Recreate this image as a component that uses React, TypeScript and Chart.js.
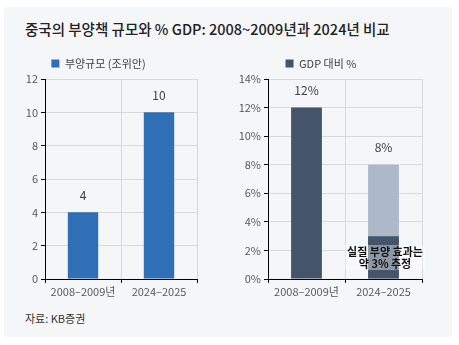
import React, { useEffect, useRef } from "react";
import { Chart, registerables } from "chart.js";

Chart.register(...registerables);

const TITLE = "중국의 부양책 규모와 % GDP: 2008~2009년과 2024년 비교";
const SOURCE = "자료: KB증권";
const CATEGORIES = ["2008–2009년", "2024–2025"];

const LEFT_LEGEND = "부양규모 (조위안)";
const STIMULUS_TRILLION_YUAN = [4, 10];
const LEFT_MAX = 12;
const LEFT_STEP = 2;

const RIGHT_LEGEND = "GDP 대비 %";
const GDP_PCT = [12, 8];
const REAL_EFFECT_PCT = [null, 3];
const RIGHT_MAX = 14;
const RIGHT_STEP = 2;

const ANNOTATION_LINES = ["실질 부양 효과는", "약 3% 추정"];
const ANNOTATION_AT = 1.5;

const FONT = "'Noto Sans CJK KR', 'Noto Sans', sans-serif";
const BLUE = "#2E6FB5";
const DARK = "#44546A";
const LIGHT = "#ADB9CA";
const GRID = "#D9D9D9";
const TICK_TEXT = "#595959";

function valueLabelPlugin(datasetIndex: number, fmt: (v: number) => string) {
  return {
    id: "valueLabels" + datasetIndex,
    afterDatasetsDraw(chart: any) {
      const meta = chart.getDatasetMeta(datasetIndex);
      const ctx = chart.ctx;
      ctx.save();
      ctx.font = `12px ${FONT}`;
      ctx.fillStyle = "#404040";
      ctx.textAlign = "center";
      ctx.textBaseline = "middle";
      meta.data.forEach((el: any, i: number) => {
        const v = chart.data.datasets[datasetIndex].data[i];
        if (v == null) return;
        ctx.fillText(fmt(v), el.x, el.y - 17);
      });
      ctx.restore();
    },
  };
}

const annotationPlugin = {
  id: "realEffectNote",
  afterDatasetsDraw(chart: any) {
    const el = chart.getDatasetMeta(1).data[1];
    if (!el) return;
    const ctx = chart.ctx;
    const y = chart.scales.y.getPixelForValue(ANNOTATION_AT);
    ctx.save();
    ctx.font = `bold 11px ${FONT}`;
    const w = Math.max(...ANNOTATION_LINES.map((l) => ctx.measureText(l).width)) + 4;
    const lh = 11.5;
    const h = lh * ANNOTATION_LINES.length + 2;
    ctx.fillStyle = "rgba(255,255,255,0.4)";
    ctx.fillRect(el.x - w / 2 + 1.5, y - h / 2, w, h);
    ctx.fillStyle = "#111";
    ctx.textAlign = "center";
    ctx.textBaseline = "middle";
    ANNOTATION_LINES.forEach((line, i) => {
      ctx.fillText(line, el.x + 1.5, y - h / 2 + 1 + lh * (i + 0.5));
    });
    ctx.restore();
  },
};

function axisOptions(max: number, step: number, yWidth: number, fmt: (v: number) => string) {
  const font = { size: 11, family: FONT };
  return {
    x: {
      offset: true,
      grid: { color: GRID, tickColor: "#000", tickLength: 4, offset: true },
      border: { color: "#000", width: 1 },
      ticks: { font, color: TICK_TEXT, padding: 2, maxRotation: 0 },
      afterFit: (s: any) => {
        s.height = 26;
      },
    },
    y: {
      min: 0,
      max,
      grid: { color: GRID, tickColor: "#000", tickLength: 4 },
      border: { color: "#000", width: 1 },
      ticks: { stepSize: step, font, color: TICK_TEXT, padding: 3, callback: (v: any) => fmt(Number(v)) },
      afterFit: (s: any) => {
        s.width = yWidth;
      },
    },
  };
}

function legendOptions(filter?: (item: any) => boolean) {
  return {
    position: "top" as const,
    labels: {
      boxWidth: 8,
      boxHeight: 8,
      padding: 8,
      color: "#404040",
      font: { size: 11, family: FONT },
      ...(filter ? { filter } : {}),
    },
  };
}

function LeftChart() {
  const ref = useRef<HTMLCanvasElement>(null);
  useEffect(() => {
    const chart = new Chart(ref.current!, {
      type: "bar",
      data: {
        labels: CATEGORIES,
        datasets: [
          {
            label: LEFT_LEGEND,
            data: STIMULUS_TRILLION_YUAN,
            backgroundColor: BLUE,
            categoryPercentage: 1,
            barPercentage: 0.4,
          },
        ],
      },
      options: {
        animation: false,
        responsive: false,
        maintainAspectRatio: false,
        layout: { padding: { top: 5, right: 8, left: 0, bottom: 0 } },
        plugins: { legend: legendOptions(), tooltip: { enabled: false } },
        scales: axisOptions(LEFT_MAX, LEFT_STEP, 45, (v) => String(v)) as any,
      },
      plugins: [valueLabelPlugin(0, (v) => String(v))],
    });
    return () => chart.destroy();
  }, []);
  return (
    <canvas
      ref={ref}
      width={205}
      height={260}
      style={{ position: "absolute", left: 0, top: 45, width: 205, height: 260 }}
    />
  );
}

function RightChart() {
  const ref = useRef<HTMLCanvasElement>(null);
  useEffect(() => {
    const chart = new Chart(ref.current!, {
      type: "bar",
      data: {
        labels: CATEGORIES,
        datasets: [
          {
            label: RIGHT_LEGEND,
            data: GDP_PCT,
            backgroundColor: [DARK, LIGHT],
            categoryPercentage: 1,
            barPercentage: 0.4,
            grouped: false,
            order: 1,
          } as any,
          {
            label: "실질 부양 효과",
            data: REAL_EFFECT_PCT,
            backgroundColor: DARK,
            categoryPercentage: 1,
            barPercentage: 0.4,
            grouped: false,
            order: 0,
          } as any,
        ],
      },
      options: {
        animation: false,
        responsive: false,
        maintainAspectRatio: false,
        layout: { padding: { top: 5, right: 8, left: 0, bottom: 0 } },
        plugins: {
          legend: legendOptions((item: any) => item.datasetIndex === 0),
          tooltip: { enabled: false },
        },
        scales: axisOptions(RIGHT_MAX, RIGHT_STEP, 48, (v) => `${v}%`) as any,
      },
      plugins: [valueLabelPlugin(0, (v) => `${v}%`), annotationPlugin],
    });
    return () => chart.destroy();
  }, []);
  return (
    <canvas
      ref={ref}
      width={210}
      height={260}
      style={{ position: "absolute", left: 220, top: 45, width: 210, height: 260 }}
    />
  );
}

export default function App() {
  return (
    <div
      style={{
        position: "absolute",
        left: 0,
        top: 0,
        width: 459,
        height: 345,
        background: "#fff",
        fontFamily: FONT,
        overflow: "hidden",
      }}
    >
      <div
        style={{ position: "absolute", left: 4, top: 7, width: 448, height: 330, background: "#F5F6F8" }}
      />
      <div
        style={{
          position: "absolute",
          left: 25,
          top: 19,
          fontSize: 14.5,
          lineHeight: "20px",
          fontWeight: 500,
          color: "#222",
          whiteSpace: "nowrap",
        }}
      >
        {TITLE}
      </div>
      <LeftChart />
      <RightChart />
      <div
        style={{
          position: "absolute",
          left: 25,
          top: 311,
          fontSize: 11,
          lineHeight: "14px",
          color: "#333",
          whiteSpace: "nowrap",
        }}
      >
        {SOURCE}
      </div>
    </div>
  );
}
